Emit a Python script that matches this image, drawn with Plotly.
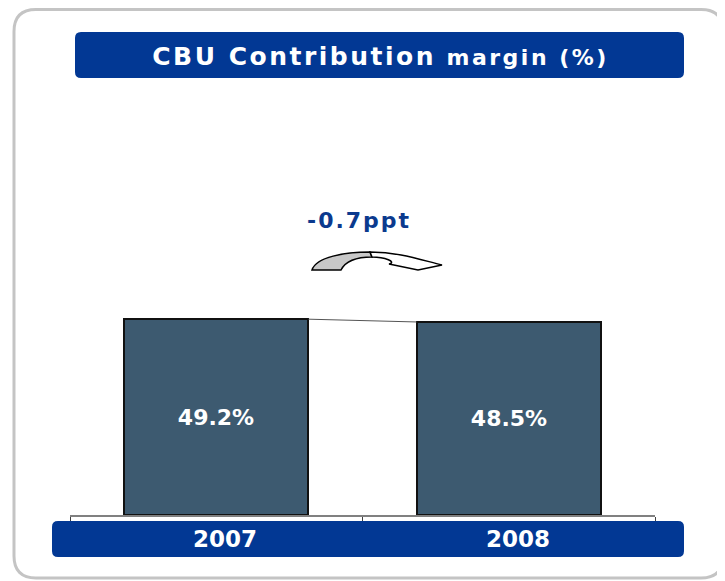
import plotly.graph_objects as go

# ---- data ----
years = ["2007", "2008"]
margin_pct = [49.2, 48.5]
value_labels = ["49.2%", "48.5%"]
title_main = "CBU Contribution"
title_sub = "margin (%)"
change_label = f"{margin_pct[1] - margin_pct[0]:+.1f}ppt".replace("+", "")

# ---- layout geometry (page has an 8px body margin) ----
OFF = 8
W, H = 725 - OFF, 581 - OFF
L, R, T, B = 70 - OFF, 70, 117 - OFF, 66
PW, PH = W - L - R, H - T - B
BAR_W = 0.63
BLUE = "#023894"
FONT = "DejaVu Sans"


def px(x):  # x in page pixels
    return (x - OFF - L) / PW


def py(y):  # y in page pixels
    return (H - B - (y - OFF)) / PH


def pt(x, y):
    return f"{px(x):.5f},{py(y):.5f}"


def rrect(x0, y0, x1, y1, r):
    return (f"M {pt(x0 + r, y0)} L {pt(x1 - r, y0)} Q {pt(x1, y0)} {pt(x1, y0 + r)} "
            f"L {pt(x1, y1 - r)} Q {pt(x1, y1)} {pt(x1 - r, y1)} "
            f"L {pt(x0 + r, y1)} Q {pt(x0, y1)} {pt(x0, y1 - r)} "
            f"L {pt(x0, y0 + r)} Q {pt(x0, y0)} {pt(x0 + r, y0)} Z")


fig = go.Figure()
fig.add_trace(go.Bar(
    x=years, y=margin_pct, width=BAR_W,
    marker=dict(color="#3d5a70", line=dict(color="#111111", width=2)),
    text=value_labels, textposition="inside", insidetextanchor="middle",
    textfont=dict(family=FONT, size=22, color="white", weight="bold"),
    hoverinfo="skip",
))

shapes = [
    # outer frame
    dict(type="path", xref="paper", yref="paper", path=rrect(14, 9.5, 723, 578, 22),
         line=dict(color="#c4c4c4", width=3), fillcolor="rgba(0,0,0,0)", layer="below"),
    # title box
    dict(type="path", xref="paper", yref="paper", path=rrect(75, 32, 684, 78, 6),
         line=dict(width=0), fillcolor=BLUE, layer="below"),
    # bottom band
    dict(type="path", xref="paper", yref="paper", path=rrect(52, 521, 684, 557, 6),
         line=dict(width=0), fillcolor=BLUE, layer="above"),
    # connector between bar tops
    dict(type="line", xref="x", yref="y", x0=0 + BAR_W / 2, y0=margin_pct[0],
         x1=1 - BAR_W / 2, y1=margin_pct[1], line=dict(color="#555555", width=1)),
    # curved arrow: grey back part
    dict(type="path", xref="paper", yref="paper",
         path=(f"M {pt(312, 270)} C {pt(316, 257)} {pt(345, 252)} {pt(370, 252)} "
               f"L {pt(372, 257)} C {pt(356, 257)} {pt(345, 262)} {pt(341, 270)} Z"),
         line=dict(color="black", width=1.5), fillcolor="#c8c8c8"),
    # curved arrow: white front part with head
    dict(type="path", xref="paper", yref="paper",
         path=(f"M {pt(370, 252)} C {pt(398, 252)} {pt(418, 259)} {pt(442, 265)} "
               f"L {pt(418, 270)} L {pt(389, 264)} C {pt(397, 262)} {pt(385, 257)} {pt(372, 257)} Z"),
         line=dict(color="black", width=1.5), fillcolor="white"),
]

annotations = [
    dict(xref="paper", yref="paper", x=px(380), y=py(56), xanchor="center", yanchor="middle",
         showarrow=False,
         text=f"<b>{title_main}</b> <b><span style='font-size:22px'>{title_sub}</span></b>",
         font=dict(family=FONT, size=25, color="white")),
    dict(xref="paper", yref="paper", x=px(359), y=py(220), xanchor="center", yanchor="middle",
         showarrow=False, text=f"<b>{change_label}</b>",
         font=dict(family=FONT, size=22, color="#0b3a8e")),
]
for i, yr in enumerate(years):
    annotations.append(dict(xref="x", yref="paper", x=i, xshift=9, y=py(539),
                            xanchor="center", yanchor="middle", showarrow=False,
                            text=f"<b>{yr}</b>",
                            font=dict(family=FONT, size=23, color="white")))

fig.update_layout(
    width=W, height=H,
    margin=dict(l=L, r=R, t=T, b=B, pad=0),
    paper_bgcolor="white", plot_bgcolor="white",
    showlegend=False,
    shapes=shapes, annotations=annotations,
    xaxis=dict(type="category", range=[-0.5, 1.5], showline=True, linecolor="#808080",
               linewidth=1.5, ticks="outside", tickson="boundaries", ticklen=5,
               tickcolor="#404040", tickwidth=1, showticklabels=False, showgrid=False,
               zeroline=False, fixedrange=True),
    yaxis=dict(range=[0, 100], visible=False, fixedrange=True),
    bargap=0,
)

# widen the letter spacing of the title and change label as in the original slide
post = """
var t = document.querySelectorAll('.annotation-text');
if (t.length > 0) { t[0].style.letterSpacing = '2.5px'; }
if (t.length > 1) { t[1].style.letterSpacing = '2px'; }
"""
fig.write_html("out.html", post_script=post)
